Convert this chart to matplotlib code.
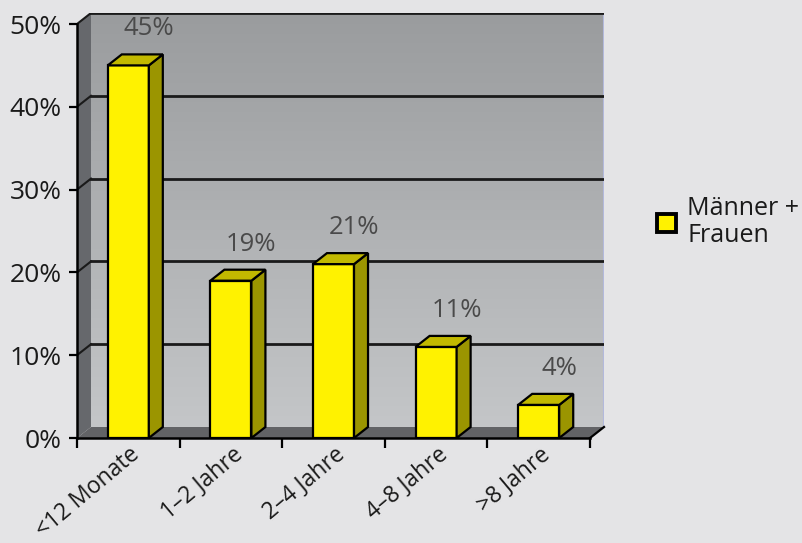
import numpy as np
import matplotlib
matplotlib.use("Agg")
import matplotlib.pyplot as plt
from matplotlib.patches import Polygon, Rectangle, Patch
from matplotlib.transforms import ScaledTranslation
from matplotlib.colors import LinearSegmentedColormap

categories = ["<12 Monate", "1–2 Jahre", "2–4 Jahre", "4–8 Jahre", ">8 Jahre"]
values = [45, 19, 21, 11, 4]
value_labels = ["45%", "19%", "21%", "11%", "4%"]
yticks = [0, 10, 20, 30, 40, 50]
ytick_labels = ["0%", "10%", "20%", "30%", "40%", "50%"]
legend_label = "Männer +\nFrauen"

plt.rcParams['font.family'] = ['Open Sans', 'DejaVu Sans']

W, H = 803, 543
fig = plt.figure(figsize=(W / 100, H / 100), dpi=100)
fig.patch.set_facecolor("#e4e4e6")

# axes pixel extents
px_left, px_right, px_bottom, px_top = 77, 604, 438, 13
ax = fig.add_axes([px_left / W, 1 - px_bottom / H,
                   (px_right - px_left) / W, (px_bottom - px_top) / H])
ax.set_facecolor("none")

n = len(categories)
cat_px = (590 - 77) / n            # pixels per category
pct_px = (438 - 24) / 50.0         # pixels per percent
dxd = 14 / cat_px                  # depth in data x
dyd = 11 / pct_px                  # depth in data y

ax.set_xlim(-0.5, n - 0.5 + dxd)
ax.set_ylim(0, 50 + dyd)

# back wall gradient
grad = np.linspace(0, 1, 256).reshape(-1, 1)
cmap = LinearSegmentedColormap.from_list("wall", ["#c4c6c8", "#9a9c9e"])
ax.imshow(grad, extent=(-0.5 + dxd, n - 0.5 + dxd, dyd, 50 + dyd),
          origin="lower", cmap=cmap, aspect="auto", zorder=0.5)

# left wall
ax.add_patch(Polygon([(-0.5, 0), (-0.5 + dxd, dyd), (-0.5 + dxd, 50 + dyd), (-0.5, 50)],
                     closed=True, facecolor="#66686c", edgecolor="none", zorder=0.6))
# floor
ax.add_patch(Polygon([(-0.5, 0), (n - 0.5, 0), (n - 0.5 + dxd, dyd), (-0.5 + dxd, dyd)],
                     closed=True, facecolor="#626366", edgecolor="none", zorder=0.6))
# right edge of back wall
ax.plot([n - 0.5 + dxd, n - 0.5 + dxd], [dyd, 50 + dyd], color="#b3b9dc", lw=1.5, zorder=0.7)
# floor right diagonal
ax.plot([n - 0.5, n - 0.5 + dxd], [0, dyd], color="black", lw=1.6, zorder=0.8,
        clip_on=False)

# gridlines on back wall and left wall
for t in yticks[1:]:
    ax.plot([-0.5 + dxd, n - 0.5 + dxd], [t + dyd, t + dyd], color="#1a1a1a", lw=2, zorder=0.8)
    ax.plot([-0.5, -0.5 + dxd], [t, t + dyd], color="#1a1a1a", lw=1.5, zorder=0.8)

# bars
bw = 0.40
for i, v in enumerate(values):
    x0, x1 = i - bw / 2, i + bw / 2
    ax.add_patch(Rectangle((x0, 0), bw, v, facecolor="#fff200", edgecolor="black",
                           lw=1.6, zorder=3))
    ax.add_patch(Polygon([(x1, 0), (x1 + dxd, dyd), (x1 + dxd, v + dyd), (x1, v)],
                         closed=True, facecolor="#9b9500", edgecolor="black", lw=1.6, zorder=3))
    ax.add_patch(Polygon([(x0, v), (x1, v), (x1 + dxd, v + dyd), (x0 + dxd, v + dyd)],
                         closed=True, facecolor="#c2b900", edgecolor="black", lw=1.6, zorder=3))
    ax.text(i + 0.2, v + 4.4, value_labels[i], ha="center", va="center",
            fontsize=18.5, color="#4a4a4a", zorder=4)

# spines
for s in ["top", "right"]:
    ax.spines[s].set_visible(False)
ax.spines["left"].set_bounds(0, 50)
ax.spines["bottom"].set_bounds(-0.5, n - 0.5)
ax.spines["left"].set_linewidth(1.8)
ax.spines["bottom"].set_linewidth(1.8)
ax.spines["left"].set_zorder(5)
ax.spines["bottom"].set_zorder(5)

ax.set_yticks(yticks)
ax.set_yticklabels(ytick_labels)
ax.tick_params(axis="y", direction="out", length=6, width=1.6, pad=5,
               labelsize=19, labelcolor="#1a1a1a")

ax.set_xticks(np.arange(n))
ax.set_xticklabels(categories, rotation=40, ha="right", va="top",
                   rotation_mode="anchor", fontsize=16.5, color="#1a1a1a")
ax.tick_params(axis="x", which="major", length=0, pad=3)
ax.set_xticks(np.arange(n + 1) - 0.5, minor=True)
ax.tick_params(axis="x", which="minor", direction="out", length=7, width=1.6)
off = ScaledTranslation(1 / 100, 0, fig.dpi_scale_trans)
for lab in ax.get_xticklabels():
    lab.set_transform(lab.get_transform() + off)

# legend
handle = Patch(facecolor="#fff200", edgecolor="black", lw=2.8)
leg = fig.legend([handle], [legend_label], loc="center left",
                 bbox_to_anchor=(657 / W, 1 - 222 / H), frameon=False,
                 fontsize=18, handlelength=0.75, handleheight=0.75, handletextpad=0.45,
                 borderpad=0, borderaxespad=0)
for t in leg.get_texts():
    t.set_color("#1a1a1a")
    t.set_linespacing(1.1)

fig.savefig("out.png", dpi=100, facecolor=fig.get_facecolor())
